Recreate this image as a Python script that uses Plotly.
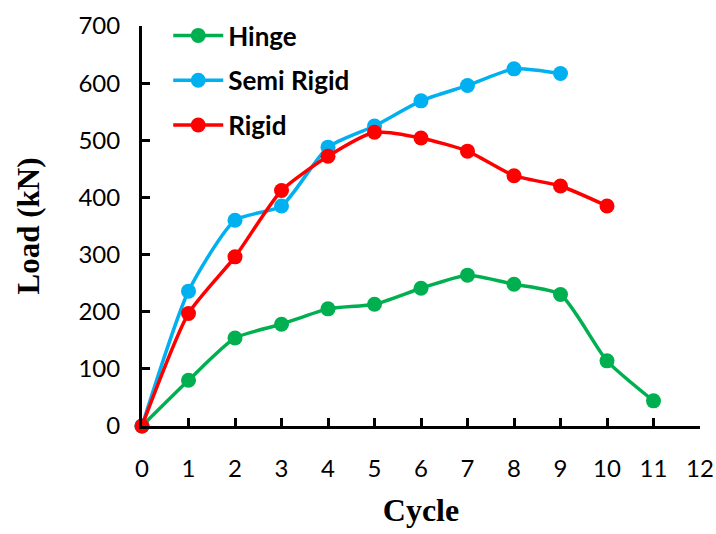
import plotly.graph_objects as go

cycles_hinge = [0, 1, 2, 3, 4, 5, 6, 7, 8, 9, 10, 11]
hinge = [0, 80, 154, 178, 205, 213, 241, 264, 248, 230, 114, 44]

cycles_semi = [0, 1, 2, 3, 4, 5, 6, 7, 8, 9]
semi_rigid = [0, 236, 360, 385, 488, 525, 569, 596, 625, 617]

cycles_rigid = [0, 1, 2, 3, 4, 5, 6, 7, 8, 9, 10]
rigid = [0, 197, 296, 412, 472, 514, 504, 481, 438, 420, 385]

x_ticks = list(range(0, 13))
y_ticks = list(range(0, 701, 100))

series = [
    ("Hinge", cycles_hinge, hinge, "#00B050"),
    ("Semi Rigid", cycles_semi, semi_rigid, "#00B0F0"),
    ("Rigid", cycles_rigid, rigid, "#FF0000"),
]

fig = go.Figure()
for i, (name, xs, ys, col) in enumerate(series):
    fig.add_trace(go.Scatter(
        x=xs, y=ys, name=name, mode="lines+markers",
        line=dict(color=col, width=3.5, shape="spline", smoothing=0.6),
        marker=dict(color=col, size=15),
        cliponaxis=False, legendgroup=f"g{i}",
    ))

axis_common = dict(
    showline=True, linecolor="black", linewidth=3,
    ticks="inside", ticklen=8, tickwidth=3, tickcolor="black",
    showgrid=False, zeroline=False, automargin=False,
    tickfont=dict(family="Lato", size=24, color="black"),
)

fig.update_layout(
    width=716, height=534,
    margin=dict(l=142, r=16, t=22, b=108),
    paper_bgcolor="white", plot_bgcolor="white",
    xaxis=dict(range=[0, 12], tickvals=x_ticks, ticklabelstandoff=19,
               title=dict(text="<b>Cycle</b>", standoff=18,
                          font=dict(family="Liberation Serif", size=32, color="black")),
               **axis_common),
    yaxis=dict(range=[0, 700], tickvals=y_ticks, ticklabelstandoff=14,
               title=dict(text="<b>Load (kN)</b>", standoff=30,
                          font=dict(family="Liberation Serif", size=31, color="black")),
               **axis_common),
    legend=dict(x=0.047, y=1.035, xanchor="left", yanchor="top",
                font=dict(family="Lato", size=26, color="black", weight="bold"),
                tracegroupgap=8, bgcolor="rgba(0,0,0,0)", itemwidth=50),
    showlegend=True,
)

fig.write_html("out.html", config={"displayModeBar": False},
               post_script="document.body.style.margin='0';")
